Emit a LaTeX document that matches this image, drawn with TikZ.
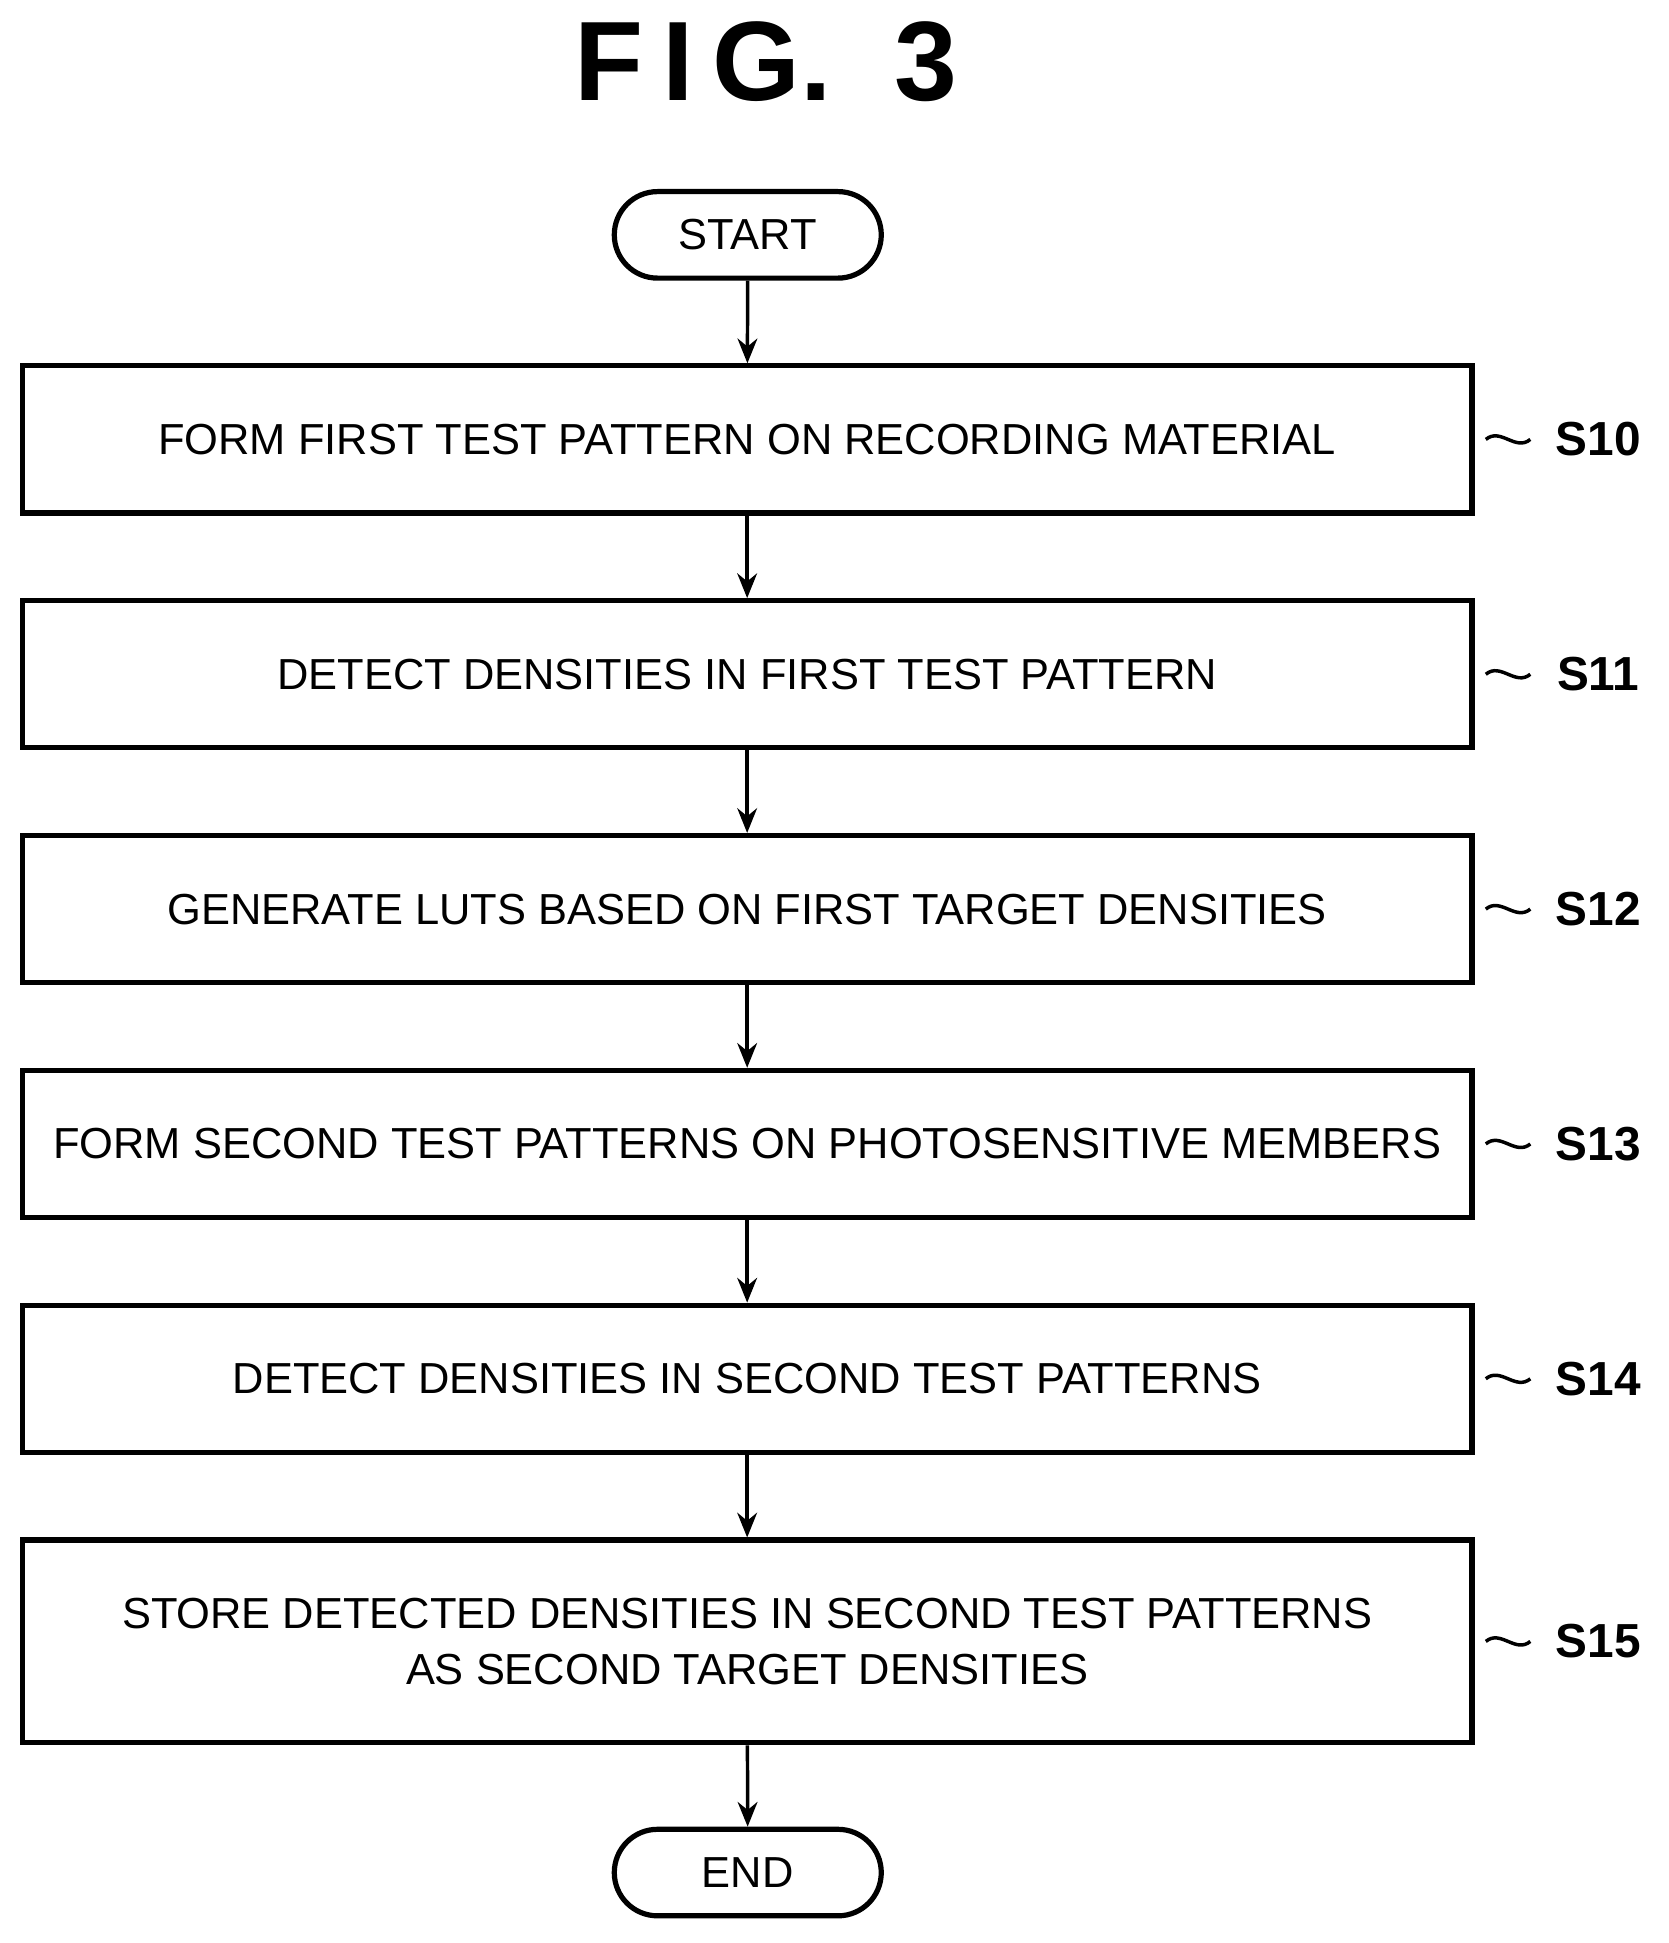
\documentclass[tikz,border=0pt]{standalone}
\usepackage{fontspec}
\setmainfont{Liberation Sans}
\usetikzlibrary{arrows.meta}
\tikzset{
  procbox/.style={draw, line width=1.2pt, minimum width=11.73cm, minimum height=1.19cm, align=center, font=\fontsize{10}{12.8}\selectfont},
  term/.style={draw, line width=1.2pt, rounded corners=0.35cm, minimum width=2.16cm, minimum height=0.7cm, font=\fontsize{10}{12}\selectfont},
  flow/.style={-{Stealth[length=2mm,width=1.6mm]}, line width=0.8pt},
  tag/.style={font=\bfseries\fontsize{11}{13}\selectfont}
}
\begin{document}
\begin{tikzpicture}
  \useasboundingbox (0,0) rectangle (13.5,-15.72);
  \node[font=\bfseries\fontsize{26}{30}\selectfont] (title) at (6.2,-0.5) {F\,I\,G.\ \ 3};

  \node[term] (start) at (6.05,-1.9) {START};
  \node[procbox] (s10) at (6.045,-3.555) {FORM FIRST TEST PATTERN ON RECORDING MATERIAL};
  \node[procbox] (s11) at (6.045,-5.455) {DETECT DENSITIES IN FIRST TEST PATTERN};
  \node[procbox] (s12) at (6.045,-7.355) {GENERATE LUTS BASED ON FIRST TARGET DENSITIES};
  \node[procbox] (s13) at (6.045,-9.255) {FORM SECOND TEST PATTERNS ON PHOTOSENSITIVE MEMBERS};
  \node[procbox] (s14) at (6.045,-11.155) {DETECT DENSITIES IN SECOND TEST PATTERNS};
  \node[procbox, minimum height=1.64cm] (s15) at (6.045,-13.28) {STORE DETECTED DENSITIES IN SECOND TEST PATTERNS\\AS SECOND TARGET DENSITIES};
  \node[term] (end) at (6.05,-15.15) {END};

  \draw[flow] (start) -- (s10);
  \draw[flow] (s10) -- (s11);
  \draw[flow] (s11) -- (s12);
  \draw[flow] (s12) -- (s13);
  \draw[flow] (s13) -- (s14);
  \draw[flow] (s14) -- (s15);
  \draw[flow] (s15) -- (end);

  % step tags
  \foreach \n/\t in {s10/S10, s11/S11, s12/S12, s13/S13, s14/S14, s15/S15} {
    \node[tag] (t\n) at ([xshift=1.0cm]\n.east) {\t};
    \draw[line width=0.8pt] ([xshift=0.09cm]\n.east) .. controls +(0.12,0.1) and +(-0.12,-0.1) .. ([xshift=0.45cm]\n.east);
  }
\end{tikzpicture}
\end{document}
